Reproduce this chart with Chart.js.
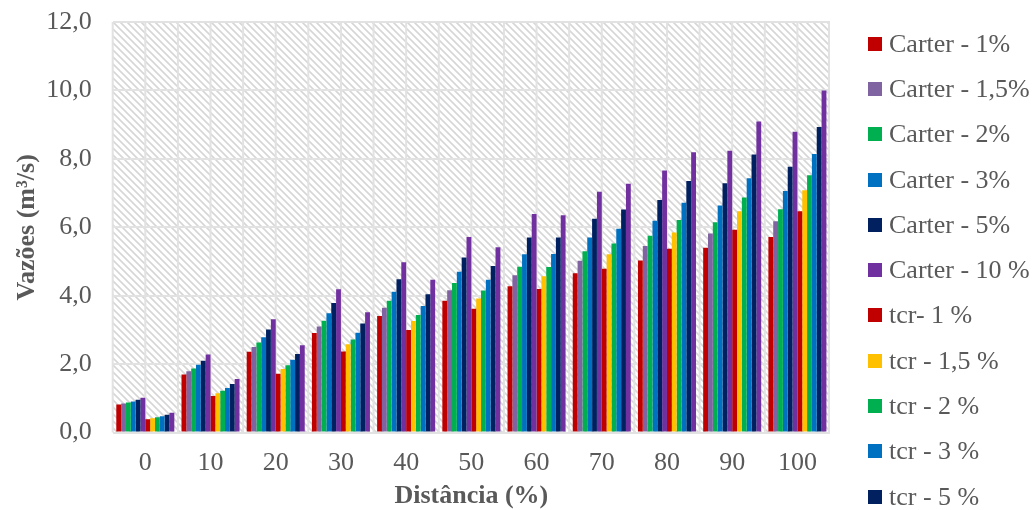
<!DOCTYPE html>
<html>
<head>
<meta charset="utf-8">
<script src="https://cdn.jsdelivr.net/npm/chart.js@4.4.1/dist/chart.umd.min.js"></script>
<style>
  html, body { margin: 0; padding: 0; background: #fff; overflow: hidden; }
  #wrap { position: relative; width: 1033px; height: 510px; }
  #legend {
    position: absolute; left: 868px; top: 21px;
    font-family: "Liberation Serif", "Times New Roman", serif;
    font-size: 26px; color: #595959;
  }
  .item { height: 45.3px; display: flex; align-items: center; white-space: nowrap; }
  .swatch { width: 14px; height: 14px; margin-right: 7px; flex: none; }
</style>
</head>
<body>
<div id="wrap">
  <canvas id="chart" width="1033" height="510"></canvas>
  <div id="legend"></div>
</div>
<script>
// ==== Data ====
const categories = ["0", "10", "20", "30", "40", "50", "60", "70", "80", "90", "100"];

const carter1  = [0.82, 1.70, 2.36, 2.91, 3.41, 3.85, 4.28, 4.66, 5.03, 5.40, 5.72];
const carter15 = [0.85, 1.79, 2.50, 3.10, 3.65, 4.16, 4.60, 5.02, 5.45, 5.82, 6.18];
const carter2  = [0.88, 1.87, 2.63, 3.27, 3.85, 4.37, 4.85, 5.30, 5.75, 6.15, 6.53];
const carter3  = [0.91, 1.98, 2.79, 3.49, 4.12, 4.70, 5.21, 5.70, 6.19, 6.64, 7.06];
const carter5  = [0.96, 2.10, 3.01, 3.79, 4.48, 5.12, 5.70, 6.25, 6.80, 7.29, 7.77];
const carter10 = [1.02, 2.28, 3.31, 4.19, 4.98, 5.72, 6.39, 7.04, 7.66, 8.24, 8.79];

const tcr1  = [0.39, 1.07, 1.72, 2.37, 3.00, 3.62, 4.20, 4.79, 5.37, 5.93, 6.47];
const tcr15 = [0.42, 1.15, 1.86, 2.58, 3.26, 3.92, 4.57, 5.21, 5.85, 6.47, 7.08];
const tcr2  = [0.45, 1.22, 1.97, 2.72, 3.44, 4.15, 4.84, 5.53, 6.21, 6.87, 7.52];
const tcr3  = [0.48, 1.30, 2.13, 2.92, 3.70, 4.47, 5.22, 5.96, 6.72, 7.43, 8.14];
const tcr5  = [0.52, 1.42, 2.30, 3.19, 4.04, 4.87, 5.70, 6.52, 7.35, 8.13, 8.93];
const tcr10 = [0.58, 1.57, 2.55, 3.52, 4.47, 5.42, 6.35, 7.27, 8.19, 9.09, 10.00];

const seriesLabels = [
  "Carter - 1%", "Carter - 1,5%", "Carter - 2%", "Carter - 3%", "Carter - 5%", "Carter - 10 %",
  "tcr- 1 %", "tcr - 1,5 %", "tcr - 2 %", "tcr - 3 %", "tcr - 5 %", "tcr - 10 %"
];
const seriesValues = [carter1, carter15, carter2, carter3, carter5, carter10, tcr1, tcr15, tcr2, tcr3, tcr5, tcr10];
const seriesColors = [
  "#C00000", "#8064A2", "#00B050", "#0070C0", "#002060", "#7030A0",
  "#C00000", "#FFC000", "#00B050", "#0070C0", "#002060", "#7030A0"
];

const yTicks = [0, 2, 4, 6, 8, 10, 12];

const FONT = '"Liberation Serif", "Times New Roman", serif';
const TEXT = "#595959";

// ==== Hatched plot background ====
function makeHatch() {
  const t = document.createElement("canvas");
  t.width = 7; t.height = 7;
  const c = t.getContext("2d");
  c.fillStyle = "#ffffff";
  c.fillRect(0, 0, 7, 7);
  c.strokeStyle = "#d6d6d6";
  c.lineWidth = 1.6;
  c.beginPath();
  c.moveTo(-1, -1); c.lineTo(8, 8);
  c.moveTo(-8, -1); c.lineTo(1, 8);
  c.moveTo(6, -1); c.lineTo(15, 8);
  c.stroke();
  return t;
}

const hatchBackground = {
  id: "hatchBackground",
  beforeDraw(chart) {
    const { ctx, chartArea: a, scales } = chart;
    ctx.save();
    ctx.fillStyle = ctx.createPattern(makeHatch(), "repeat");
    ctx.fillRect(a.left, a.top, a.right - a.left, a.bottom - a.top);

    // vertical grid at every half category
    const x = scales.x;
    const half = (x.getPixelForValue(1) - x.getPixelForValue(0)) / 2;
    ctx.strokeStyle = "#e2e2e2";
    ctx.lineWidth = 2;
    ctx.beginPath();
    for (let i = 0; i < categories.length; i++) {
      const px = x.getPixelForValue(i);
      ctx.moveTo(px - half, a.top); ctx.lineTo(px - half, a.bottom);
      ctx.moveTo(px, a.top); ctx.lineTo(px, a.bottom);
    }
    ctx.moveTo(a.right - 1, a.top); ctx.lineTo(a.right - 1, a.bottom);
    ctx.stroke();
    ctx.restore();
  }
};

// ==== Chart ====
const datasets = seriesLabels.map((label, i) => ({
  label,
  data: seriesValues[i],
  backgroundColor: seriesColors[i],
  borderWidth: 0,
  barPercentage: 1.0,
  categoryPercentage: 0.89
}));

new Chart(document.getElementById("chart"), {
  type: "bar",
  data: { labels: categories, datasets },
  options: {
    responsive: false,
    animation: false,
    layout: { padding: { left: 8, right: 203, top: 0, bottom: -6 } },
    plugins: { legend: { display: false }, tooltip: { enabled: false } },
    scales: {
      x: {
        grid: { display: false },
        border: { display: false },
        ticks: { color: TEXT, font: { family: FONT, size: 26 }, padding: 7 },
        title: {
          display: true, text: "Distância (%)", color: TEXT,
          font: { family: FONT, size: 26, weight: "bold" }, padding: { top: -5 }
        }
      },
      y: {
        min: 0, max: 12,
        afterBuildTicks: (axis) => { axis.ticks = yTicks.map(v => ({ value: v })); },
        // keep the tick padding horizontal only
        afterFit: (axis) => { axis.paddingTop = 22; axis.paddingBottom = 0; },
        grid: { color: "#e2e2e2", lineWidth: 2, drawTicks: false },
        border: { display: false },
        ticks: {
          color: TEXT, font: { family: FONT, size: 26 }, padding: 21,
          callback: (v) => v.toFixed(1).replace(".", ",")
        },
        title: {
          display: true, text: "Vazões (m³/s)", color: TEXT,
          font: { family: FONT, size: 26, weight: "bold" }, padding: { bottom: -18 }
        }
      }
    }
  },
  plugins: [hatchBackground]
});

// ==== Legend ====
const legend = document.getElementById("legend");
seriesLabels.forEach((label, i) => {
  const row = document.createElement("div");
  row.className = "item";
  const sw = document.createElement("span");
  sw.className = "swatch";
  sw.style.background = seriesColors[i];
  const txt = document.createElement("span");
  txt.textContent = label;
  row.appendChild(sw);
  row.appendChild(txt);
  legend.appendChild(row);
});
</script>
</body>
</html>
